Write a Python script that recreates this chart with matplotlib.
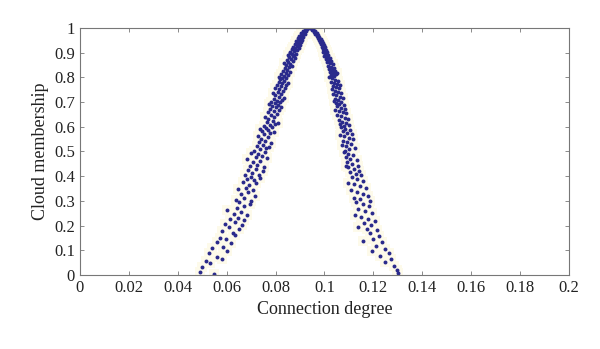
"""
plot.py -- cloud model drops: connection degree vs cloud membership.
"""
import matplotlib.pyplot as plt

# ---- left branch of the cloud (x = connection degree, y = membership) ----
left_x = [
    0.0492, 0.0501, 0.0548, 0.0515, 0.0533, 0.0561, 0.0527, 0.0579,
    0.0541, 0.0586, 0.0603, 0.0562, 0.0617, 0.0574, 0.0598, 0.0635, 0.0581, 0.0624, 0.0609, 0.0652,
    0.0594, 0.0632, 0.0661, 0.0612, 0.0645, 0.0671, 0.0628, 0.0657, 0.0603, 0.0684, 0.0641, 0.0669, 0.0652, 0.0695,
    0.0638, 0.0672, 0.0701, 0.0659, 0.0688, 0.0715, 0.0646, 0.0679, 0.0707, 0.0693, 0.0721, 0.0665, 0.0684, 0.0712,
    0.0736, 0.0698,
    0.0676, 0.0703, 0.0731, 0.0689, 0.0718, 0.0748, 0.0695, 0.0724, 0.0752, 0.0708, 0.0737, 0.0685, 0.0719, 0.0745,
    0.0763, 0.0728, 0.0701, 0.0756,
    0.0712, 0.0738, 0.0761, 0.0724, 0.0749, 0.0772, 0.0733, 0.0758, 0.0781, 0.0742, 0.0767, 0.0727, 0.0753, 0.0778,
    0.0746, 0.0771, 0.0792, 0.0759, 0.0784, 0.0737,
    0.0752, 0.0776, 0.0799, 0.0764, 0.0788, 0.0811, 0.0771, 0.0795, 0.0758, 0.0783, 0.0806, 0.0769, 0.0792, 0.0815,
    0.0779, 0.0801, 0.0786, 0.0809, 0.0823, 0.0774, 0.0796, 0.0818,
    0.0782, 0.0804, 0.0826, 0.0793, 0.0814, 0.0833, 0.0799, 0.0821, 0.0788, 0.0809, 0.0829, 0.0815, 0.0837, 0.0797,
    0.0823, 0.0842, 0.0806, 0.0828, 0.0813, 0.0835, 0.0849, 0.0819, 0.0841, 0.0826,
    0.0812, 0.0833, 0.0851, 0.0824, 0.0843, 0.0858, 0.0829, 0.0848, 0.0837, 0.0856, 0.0869, 0.0842, 0.0861, 0.0834,
    0.0852, 0.0871, 0.0846, 0.0864, 0.0878, 0.0855, 0.0873, 0.0849, 0.0867, 0.0882, 0.0859, 0.0876,
    0.0858, 0.0874, 0.0889, 0.0866, 0.0881, 0.0895, 0.0871, 0.0886, 0.0899, 0.0878, 0.0892, 0.0904, 0.0884, 0.0897,
    0.0909, 0.0891, 0.0903, 0.0914, 0.0897, 0.0909, 0.0919, 0.0905, 0.0916, 0.0924, 0.0913, 0.0922, 0.0929, 0.0934,
]
left_y = [
    0.012, 0.031, 0.004, 0.058, 0.047, 0.071, 0.089, 0.063,
    0.108, 0.112, 0.097, 0.135, 0.128, 0.151, 0.146, 0.162, 0.178, 0.171, 0.193, 0.188,
    0.207, 0.214, 0.203, 0.226, 0.231, 0.222, 0.248, 0.255, 0.262, 0.244, 0.273, 0.281, 0.296, 0.288,
    0.305, 0.312, 0.301, 0.327, 0.334, 0.319, 0.348, 0.352, 0.343, 0.366, 0.371, 0.378, 0.389, 0.385,
    0.394, 0.397,
    0.404, 0.412, 0.406, 0.423, 0.428, 0.419, 0.441, 0.447, 0.438, 0.459, 0.463, 0.468, 0.476, 0.481,
    0.472, 0.489, 0.493, 0.496,
    0.503, 0.509, 0.514, 0.521, 0.527, 0.519, 0.538, 0.543, 0.535, 0.552, 0.558, 0.561, 0.569, 0.574,
    0.582, 0.587, 0.579, 0.594, 0.598, 0.589,
    0.603, 0.608, 0.612, 0.619, 0.624, 0.617, 0.633, 0.638, 0.641, 0.647, 0.652, 0.658, 0.663, 0.667,
    0.671, 0.678, 0.684, 0.689, 0.681, 0.692, 0.697, 0.699,
    0.702, 0.706, 0.709, 0.714, 0.719, 0.716, 0.727, 0.731, 0.735, 0.741, 0.744, 0.752, 0.756, 0.758,
    0.763, 0.767, 0.771, 0.776, 0.783, 0.787, 0.779, 0.792, 0.796, 0.799,
    0.803, 0.806, 0.809, 0.814, 0.818, 0.821, 0.827, 0.831, 0.838, 0.841, 0.844, 0.849, 0.853, 0.857,
    0.862, 0.866, 0.871, 0.874, 0.877, 0.882, 0.886, 0.889, 0.893, 0.896, 0.898, 0.891,
    0.902, 0.906, 0.909, 0.913, 0.917, 0.919, 0.924, 0.928, 0.931, 0.936, 0.939, 0.942, 0.947, 0.951,
    0.953, 0.958, 0.962, 0.964, 0.968, 0.972, 0.975, 0.979, 0.983, 0.986, 0.989, 0.993, 0.996, 0.999,
]

# ---- right branch ----
right_x = [
    0.0941, 0.0947, 0.0954, 0.0951, 0.0961, 0.0957, 0.0968, 0.0963, 0.0974, 0.0969, 0.0979, 0.0972, 0.0984, 0.0977,
    0.0989, 0.0981, 0.0993, 0.0986, 0.0997, 0.0989, 0.1002, 0.0993, 0.1006, 0.0998, 0.1009, 0.0995,
    0.1003, 0.1014, 0.0999, 0.1011, 0.1022, 0.1005, 0.1017, 0.1028, 0.1009, 0.1021, 0.1033, 0.1014, 0.1026, 0.1037,
    0.1018, 0.1031, 0.1042, 0.1022, 0.1035, 0.1047, 0.1027, 0.1039, 0.1019, 0.1051,
    0.1032, 0.1044, 0.1056, 0.1026, 0.1038, 0.1051, 0.1063, 0.1033, 0.1046, 0.1058, 0.1029, 0.1041, 0.1054, 0.1067,
    0.1036, 0.1049, 0.1062, 0.1075, 0.1043, 0.1057, 0.1038, 0.1069,
    0.1047, 0.1061, 0.1078, 0.1052, 0.1068, 0.1084, 0.1045, 0.1059, 0.1074, 0.1089, 0.1053, 0.1067, 0.1082, 0.1096,
    0.1058, 0.1073, 0.1088, 0.1064, 0.1101, 0.1079,
    0.1068, 0.1085, 0.1103, 0.1074, 0.1092, 0.1111, 0.1063, 0.1081, 0.1099, 0.1117, 0.1076, 0.1094, 0.1108, 0.1071,
    0.1089, 0.1124, 0.1102, 0.1083,
    0.1079, 0.1097, 0.1118, 0.1086, 0.1106, 0.1131, 0.1092, 0.1114, 0.1137, 0.1098, 0.1121, 0.1143, 0.1104, 0.1127,
    0.1151, 0.1088,
    0.1112, 0.1134, 0.1158, 0.1097, 0.1121, 0.1146, 0.1169, 0.1108, 0.1133, 0.1157, 0.1179, 0.1119, 0.1144, 0.1188,
    0.1128, 0.1156, 0.1183, 0.1139, 0.1167, 0.1195, 0.1124, 0.1151, 0.1178, 0.1206, 0.1163, 0.1191,
    0.1137, 0.1172, 0.1214, 0.1186, 0.1225, 0.1198, 0.1158, 0.1237, 0.1209, 0.1248,
    0.1193, 0.1262, 0.1229, 0.1271, 0.1246, 0.1284, 0.1298, 0.1301,
]
right_y = [
    0.999, 0.997, 0.994, 0.990, 0.987, 0.983, 0.979, 0.975, 0.971, 0.967, 0.963, 0.958, 0.955, 0.950,
    0.946, 0.941, 0.938, 0.933, 0.929, 0.924, 0.921, 0.916, 0.912, 0.908, 0.904, 0.901,
    0.896, 0.892, 0.887, 0.883, 0.879, 0.874, 0.869, 0.866, 0.861, 0.857, 0.852, 0.847, 0.843, 0.839,
    0.834, 0.829, 0.826, 0.821, 0.816, 0.812, 0.808, 0.804, 0.802, 0.818,
    0.796, 0.791, 0.787, 0.783, 0.778, 0.773, 0.769, 0.764, 0.759, 0.755, 0.751, 0.746, 0.741, 0.737,
    0.731, 0.727, 0.722, 0.718, 0.713, 0.709, 0.704, 0.701,
    0.696, 0.692, 0.688, 0.683, 0.677, 0.672, 0.669, 0.663, 0.658, 0.654, 0.648, 0.642, 0.637, 0.633,
    0.627, 0.621, 0.616, 0.611, 0.607, 0.602,
    0.597, 0.592, 0.588, 0.582, 0.576, 0.571, 0.566, 0.561, 0.555, 0.549, 0.544, 0.538, 0.531, 0.526,
    0.521, 0.516, 0.509, 0.503,
    0.496, 0.489, 0.484, 0.476, 0.469, 0.464, 0.457, 0.449, 0.443, 0.436, 0.428, 0.421, 0.415, 0.409,
    0.403, 0.441,
    0.396, 0.389, 0.382, 0.374, 0.367, 0.359, 0.351, 0.343, 0.335, 0.327, 0.319, 0.312, 0.306, 0.301,
    0.294, 0.286, 0.279, 0.268, 0.259, 0.251, 0.243, 0.234, 0.226, 0.218, 0.209, 0.203,
    0.196, 0.188, 0.181, 0.169, 0.158, 0.146, 0.139, 0.132, 0.119, 0.107,
    0.098, 0.091, 0.078, 0.064, 0.051, 0.038, 0.022, 0.009,
]

x_ticks = [0, 0.02, 0.04, 0.06, 0.08, 0.1, 0.12, 0.14, 0.16, 0.18, 0.2]
x_labels = ["0", "0.02", "0.04", "0.06", "0.08", "0.1", "0.12", "0.14", "0.16", "0.18", "0.2"]
y_ticks = [0, 0.1, 0.2, 0.3, 0.4, 0.5, 0.6, 0.7, 0.8, 0.9, 1]
y_labels = ["0", "0.1", "0.2", "0.3", "0.4", "0.5", "0.6", "0.7", "0.8", "0.9", "1"]

plt.rcParams["font.family"] = ["Liberation Serif", "DejaVu Serif"]

fig = plt.figure(figsize=(6, 3.49), dpi=100)
ax = fig.add_axes([0.1333, 0.212, 0.815, 0.708])

xs = left_x + right_x
ys = left_y + right_y

# faint yellow halo behind each drop, then the drop itself
ax.scatter(xs, ys, s=50, marker="s", color="#fdfaea", linewidths=0, zorder=1)
ax.scatter(xs, ys, s=8, color="#2a2a8c", linewidths=0, zorder=2)

ax.set_xlim(0, 0.2)
ax.set_ylim(0, 1)
ax.set_xticks(x_ticks)
ax.set_xticklabels(x_labels)
ax.set_yticks(y_ticks)
ax.set_yticklabels(y_labels)
ax.tick_params(direction="in", top=True, right=True, length=3, width=0.6,
               colors="#777777", labelcolor="#222222", labelsize=12)
for sp in ax.spines.values():
    sp.set_color("#777777")
    sp.set_linewidth(0.8)

ax.set_xlabel("Connection degree", fontsize=13, color="#222222")
ax.set_ylabel("Cloud membership", fontsize=13, color="#222222")

fig.savefig("out.png", dpi=100)
